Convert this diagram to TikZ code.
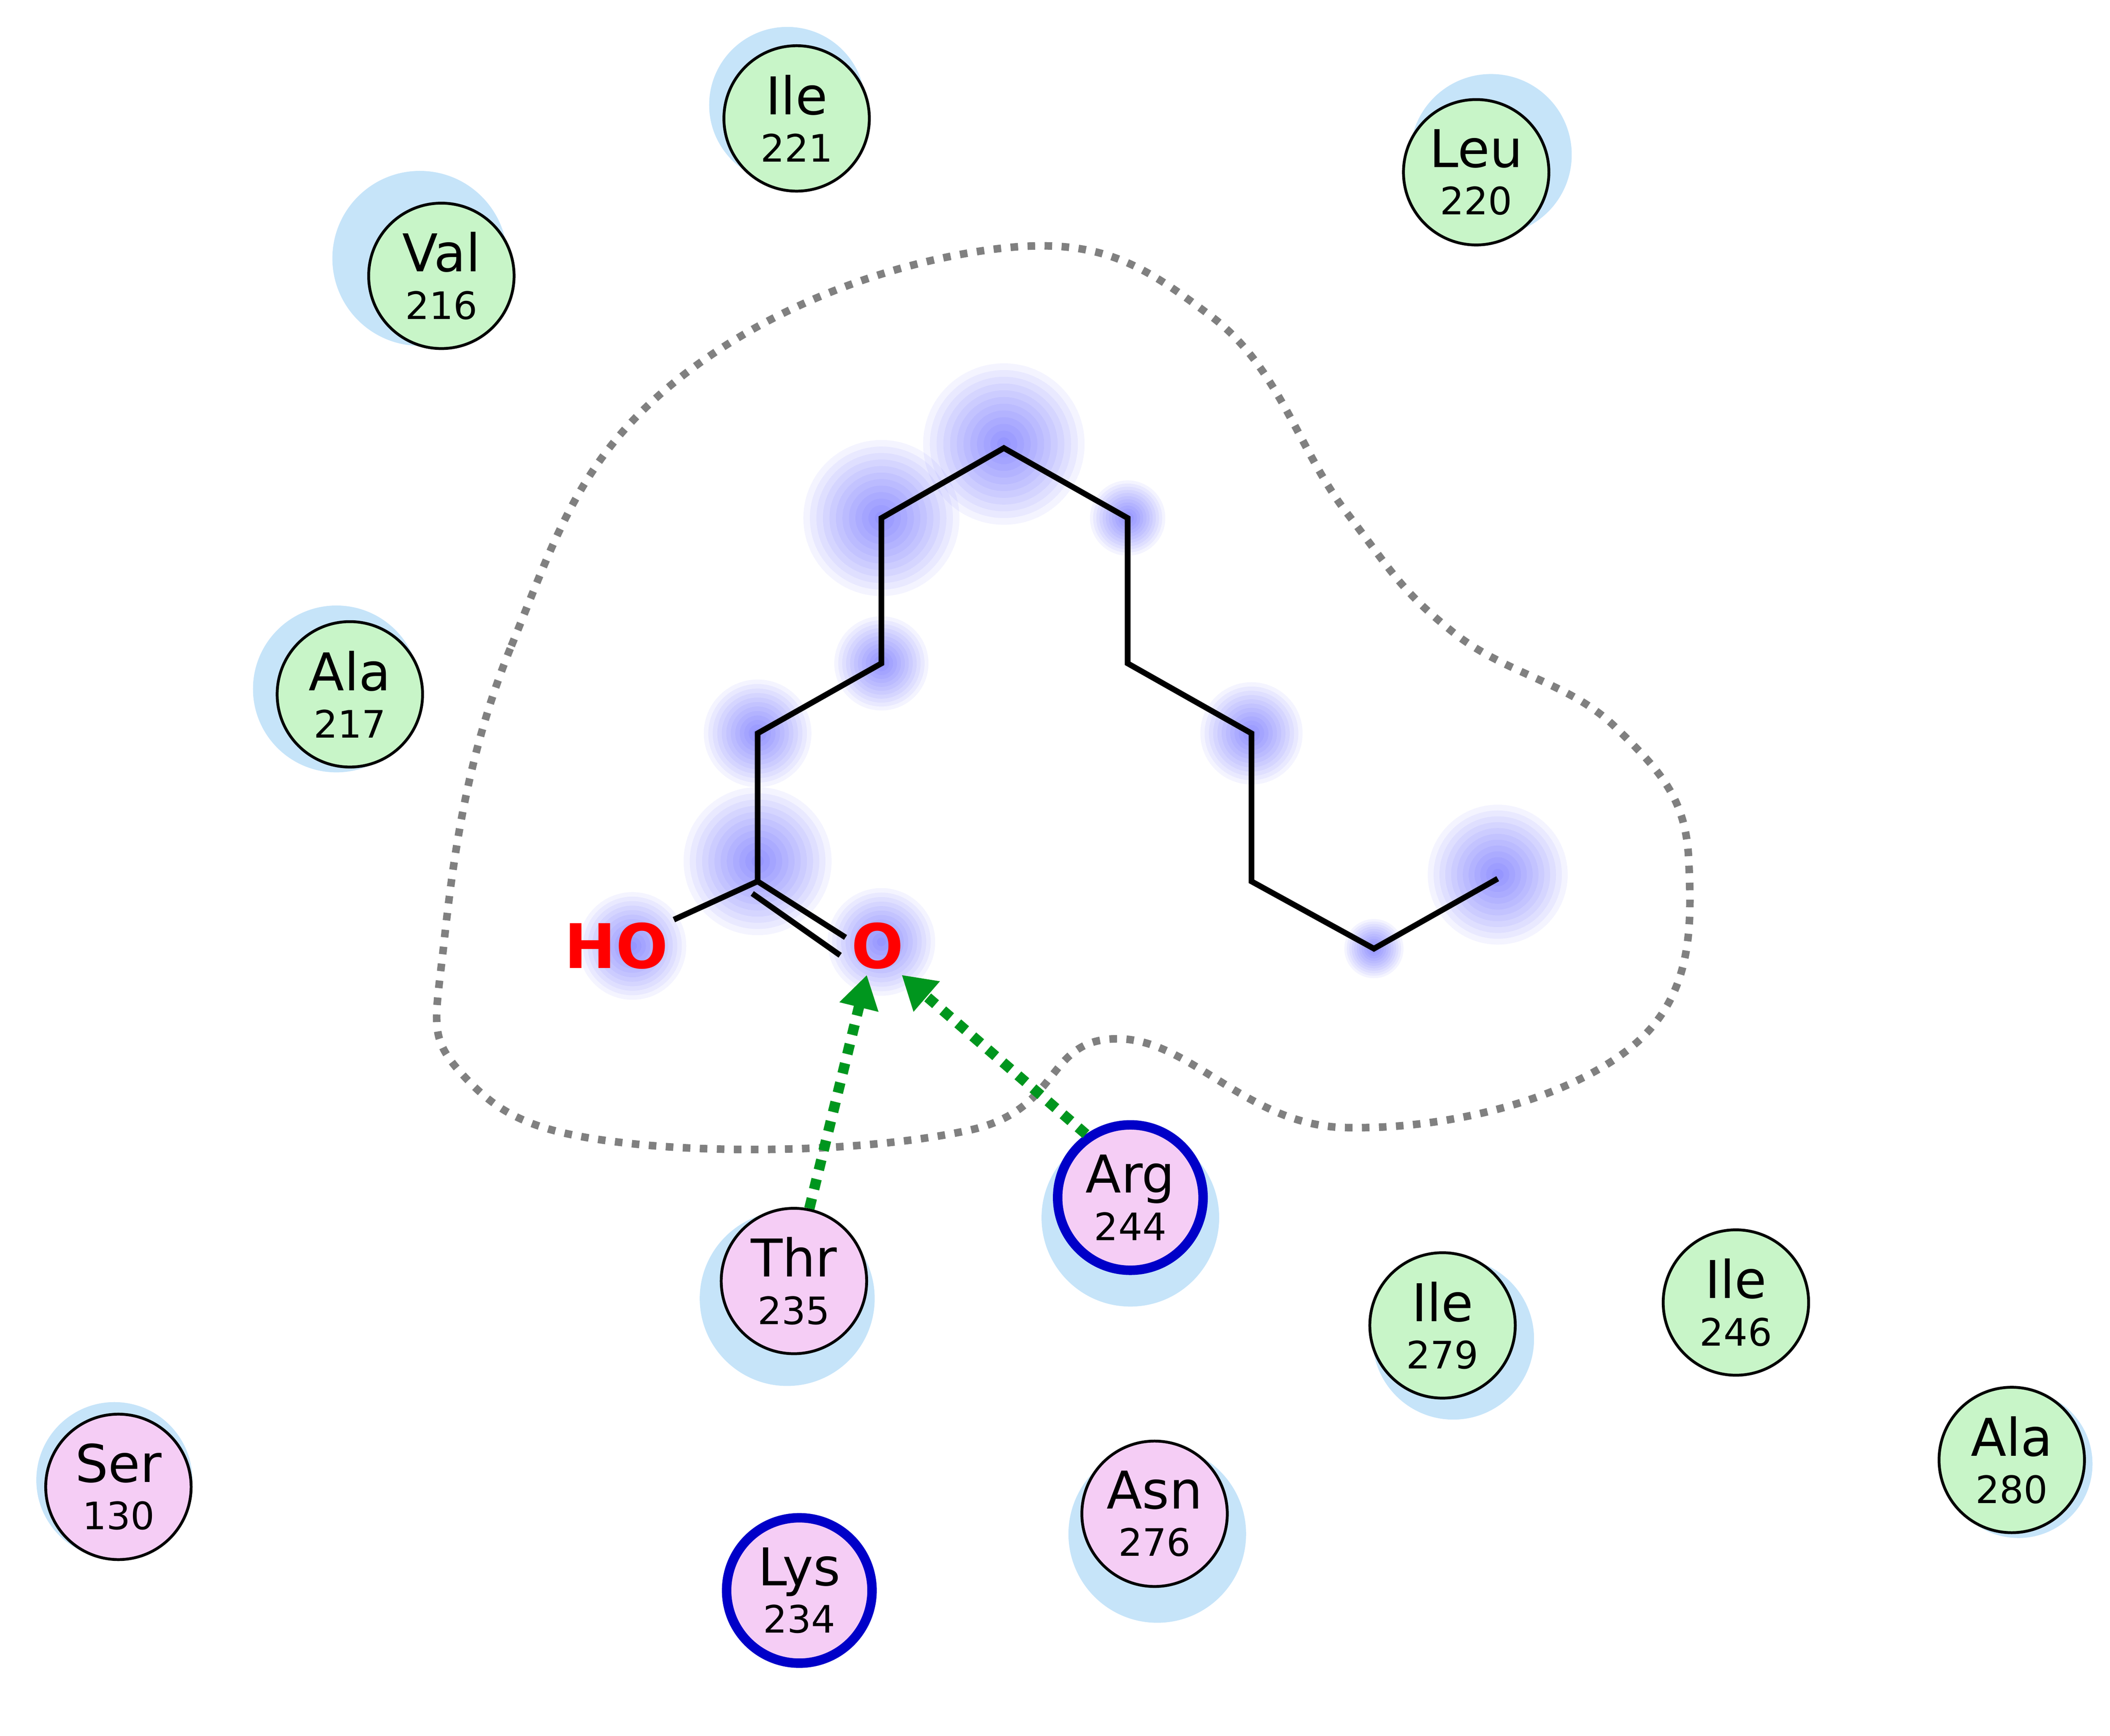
\documentclass[tikz,border=0pt]{standalone}
\usepackage{fontspec}
\setmainfont{DejaVu Sans}
\usetikzlibrary{arrows.meta,calc}
\definecolor{grn}{RGB}{200,245,200}
\definecolor{pnk}{RGB}{245,205,245}
\definecolor{halo}{RGB}{160,210,245}
\definecolor{hb}{RGB}{0,150,30}
\newcommand{\myglow}[3]{\foreach \k in {1,...,12}{\fill[blue,opacity=0.045] (#1,#2) circle ({#3*\k/12});}}
\tikzset{
 res/.style={circle,draw=black,line width=0.6pt,minimum size=1.08cm,inner sep=0pt,align=center,font=\fontsize{11}{11}\selectfont},
 gres/.style={res,fill=grn},
 pres/.style={res,fill=pnk},
 bres/.style={pres,draw={rgb,255:red,0;green,0;blue,200},line width=2pt},
 hbond/.style={draw=hb,line width=2.2pt,dotted,-{Triangle[length=7pt,width=8pt]}},
 bond/.style={line width=1.2pt,black},
 atom/.style={text=red,font=\bfseries\fontsize{13}{13}\selectfont,inner sep=1pt}
}
\begin{document}
\begin{tikzpicture}[x=0.01cm,y=-0.01cm]
\useasboundingbox (0,0) rectangle (1568,1290);
% halos
\foreach \x/\y/\r in {585/78/58,1108/115/60,312/192/65,250/512/62,585/965/65,840/905/66,1080/995/60,860/1140/66,85/1100/58,1500/1088/55,1290/965/50}
 \fill[halo,opacity=0.6] (\x,\y) circle (\r);
% glows
\myglow{563}{640}{55}
\myglow{655}{385}{58}
\myglow{746}{330}{60}
\myglow{838}{385}{28}
\myglow{655}{493}{35}
\myglow{563}{545}{40}
\myglow{930}{545}{38}
\myglow{1113}{650}{52}
\myglow{1021}{705}{22}
\myglow{470}{703}{40}
\myglow{655}{700}{40}
% contour
\draw[gray,line width=1.6pt,dotted] plot[smooth cycle,tension=0.7] coordinates {(330,700) (380,480) (500,285) (740,185) (900,235) (1000,380) (1080,470) (1200,540) (1255,640) (1210,780) (1000,838) (830,772) (720,840) (470,850) (345,800)};
% molecule
\node[atom] (HO) at (458,703) {HO};
\node[atom] (O) at (652,703) {O};
\coordinate (c1) at (563,655);
\foreach \n/\x/\y in {c2/563/545,c3/655/493,c4/655/385,c5/746/333,c6/838/385,c7/838/493,c8/930/545,c9/930/655,c10/1021/705,c11/1113/653}
 \coordinate (\n) at (\x,\y);
\draw[bond] (HO) -- (c1);
\draw[bond] (c1) -- (c2) -- (c3) -- (c4) -- (c5) -- (c6) -- (c7) -- (c8) -- (c9) -- (c10) -- (c11);
\draw[bond] (c1) -- (O.165);
\draw[bond] ($(c1)+(-4,9)$) -- ($(O.175)+(-4,9)$);
% residues
\node[gres] (i221) at (592,88) {Ile\\[-1pt]{\footnotesize 221}};
\node[gres] (l220) at (1097,128) {Leu\\[-1pt]{\footnotesize 220}};
\node[gres] (v216) at (328,205) {Val\\[-1pt]{\footnotesize 216}};
\node[gres] (a217) at (260,516) {Ala\\[-1pt]{\footnotesize 217}};
\node[pres] (t235) at (590,952) {Thr\\[-1pt]{\footnotesize 235}};
\node[bres] (r244) at (840,890) {Arg\\[-1pt]{\footnotesize 244}};
\node[gres] (i279) at (1072,985) {Ile\\[-1pt]{\footnotesize 279}};
\node[gres] (i246) at (1290,968) {Ile\\[-1pt]{\footnotesize 246}};
\node[gres] (a280) at (1495,1085) {Ala\\[-1pt]{\footnotesize 280}};
\node[pres] (s130) at (88,1105) {Ser\\[-1pt]{\footnotesize 130}};
\node[pres] (n276) at (858,1125) {Asn\\[-1pt]{\footnotesize 276}};
\node[bres] (k234) at (594,1182) {Lys\\[-1pt]{\footnotesize 234}};
% H-bonds
\draw[hbond] (t235.78) -- (O.250);
\draw[hbond] (r244.125) -- (O.310);
\end{tikzpicture}
\end{document}
